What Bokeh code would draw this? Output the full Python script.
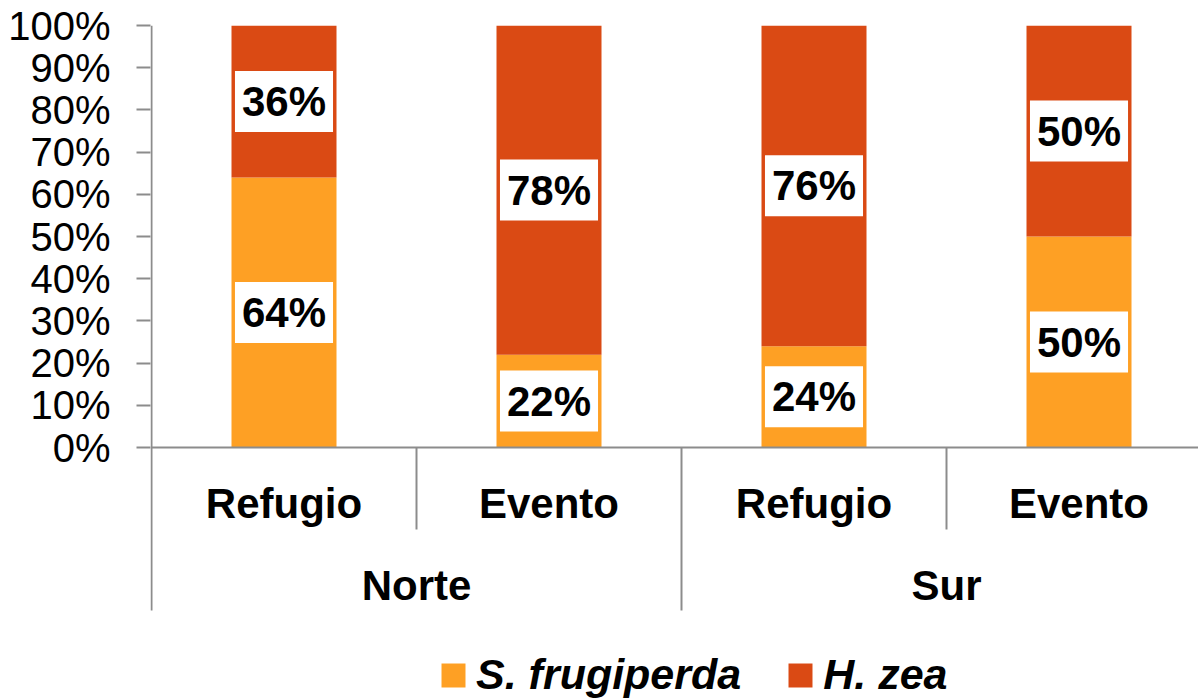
from bokeh.plotting import figure
from bokeh.models import (ColumnDataSource, Range1d, FixedTicker, Legend, LegendItem)
from bokeh.core.properties import value
from bokeh.embed import file_html
from bokeh.resources import INLINE

# ---- data ----
groups = ["Norte", "Norte", "Sur", "Sur"]
subgroups = ["Refugio", "Evento", "Refugio", "Evento"]
group_names = ["Norte", "Sur"]
s_frugiperda = [64, 22, 24, 50]
h_zea = [36, 78, 76, 50]
series_names = ["S. frugiperda", "H. zea"]
colors = ["#FEA024", "#DA4A14"]
y_ticks = [0, 10, 20, 30, 40, 50, 60, 70, 80, 90, 100]
y_tick_labels = ["0%", "10%", "20%", "30%", "40%", "50%", "60%", "70%", "80%", "90%", "100%"]

FONT = "Liberation Sans"
AXIS_COLOR = "#8C8C8C"

n = len(subgroups)
xs = [i + 0.5 for i in range(n)]

src = ColumnDataSource(dict(
    x=xs,
    sf_bottom=[0] * n,
    sf_top=s_frugiperda,
    hz_bottom=s_frugiperda,
    hz_top=[a + b for a, b in zip(s_frugiperda, h_zea)],
))

PLOT_W, PLOT_H = 1198, 699
LEFT, TOP = 150, 25
frame_w = PLOT_W - LEFT
frame_h = PLOT_H - TOP
cat_px = 265.0
px_per_unit = 422.0 / 100.0
x_start = -1.0 / cat_px
y_start = 100 - frame_h / px_per_unit

p = figure(width=PLOT_W, height=PLOT_H, output_backend="svg", toolbar_location=None,
           x_range=Range1d(x_start, x_start + frame_w / cat_px), y_range=Range1d(y_start, 100),
           x_axis_location=None, min_border_left=LEFT, min_border_top=TOP,
           min_border_bottom=0, min_border_right=0)
p.outline_line_color = None
p.grid.visible = False
p.background_fill_color = "white"
p.border_fill_color = "white"

bar_w = 105.0 / cat_px
r_sf = p.vbar(x="x", bottom="sf_bottom", top="sf_top", width=bar_w, source=src,
              fill_color=colors[0], line_color=None)
r_hz = p.vbar(x="x", bottom="hz_bottom", top="hz_top", width=bar_w, source=src,
              fill_color=colors[1], line_color=None)

# y axis (line drawn separately so it stops below the group labels)
ax = p.yaxis[0]
ax.ticker = FixedTicker(ticks=y_ticks)
ax.major_label_overrides = {t: l for t, l in zip(y_ticks, y_tick_labels)}
ax.minor_tick_line_color = None
ax.major_tick_in = 0
ax.major_tick_out = 14
ax.major_label_standoff = 26
ax.axis_line_color = None
ax.major_tick_line_color = AXIS_COLOR
ax.major_tick_line_width = 2
ax.major_label_text_font = FONT
ax.major_label_text_font_size = "40px"
ax.major_label_text_color = "black"

long_depth = -(610 - 447) / px_per_unit
short_depth = -(529 - 447) / px_per_unit

# y axis line, x axis line and category separators
p.segment(x0=[0], y0=[long_depth], x1=[0], y1=[100], line_color=AXIS_COLOR, line_width=2)
p.segment(x0=[0], y0=[0], x1=[x_start + frame_w / cat_px], y1=[0], line_color=AXIS_COLOR, line_width=2)
sep_x, sep_y1 = [], []
for i in range(1, n):
    sep_x.append(i)
    sep_y1.append(long_depth if groups[i] != groups[i - 1] else short_depth)
p.segment(x0=sep_x, y0=[0] * len(sep_x), x1=sep_x, y1=sep_y1,
          line_color=AXIS_COLOR, line_width=2)

# category labels
sub_y = -(503 - 447) / px_per_unit
p.text(x=xs, y=[sub_y] * n, text=subgroups, text_font=value(FONT),
       text_font_style="bold", text_font_size="42px", text_align="center",
       text_baseline="middle", text_color="black")
grp_x, grp_y = [], []
for g in group_names:
    idx = [i for i, gg in enumerate(groups) if gg == g]
    grp_x.append(sum(xs[i] for i in idx) / len(idx))
    grp_y.append(-(585 - 447) / px_per_unit)
p.text(x=grp_x, y=grp_y, text=group_names, text_font=value(FONT),
       text_font_style="bold", text_font_size="42px", text_align="center",
       text_baseline="middle", text_color="black")

# value labels
lab_x = xs + xs
lab_y = [v / 2 for v in s_frugiperda] + [a + b / 2 for a, b in zip(s_frugiperda, h_zea)]
lab_t = [f"{v}%" for v in s_frugiperda] + [f"{v}%" for v in h_zea]
p.text(x=lab_x, y=lab_y, text=lab_t, text_font=value(FONT), text_font_style="bold",
       text_font_size="42px", text_align="center", text_baseline="middle",
       text_color="black", background_fill_color="white", padding=7)

legend = Legend(items=[LegendItem(label=series_names[0], renderers=[r_sf]),
                       LegendItem(label=series_names[1], renderers=[r_hz])],
                orientation="horizontal", location=(288, 0),
                label_text_font=FONT, label_text_font_style="bold italic",
                label_text_font_size="43px", label_text_color="black",
                glyph_width=30, glyph_height=30, label_standoff=8, spacing=44,
                border_line_color=None, background_fill_alpha=0, padding=0, margin=0)
p.add_layout(legend, "center")

open("out.html", "w").write(file_html(p, INLINE))
